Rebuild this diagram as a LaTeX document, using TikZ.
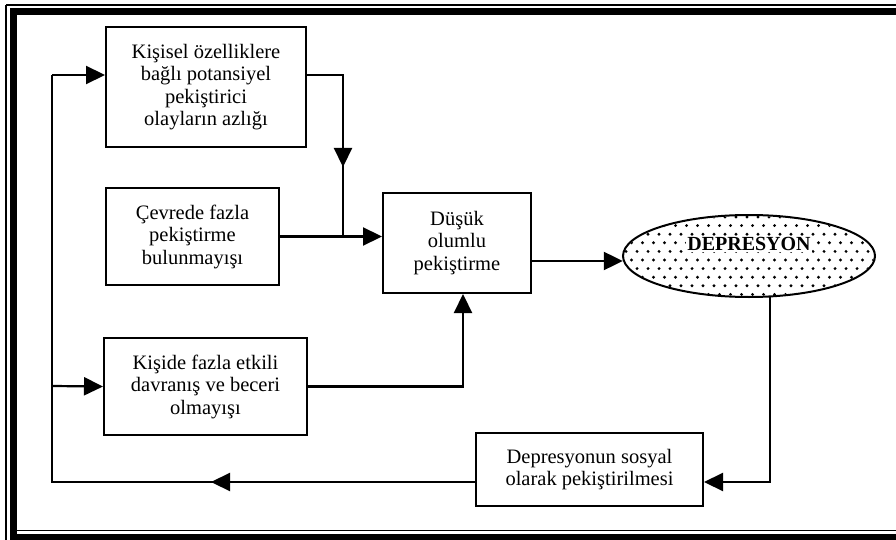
\documentclass[tikz,border=0pt]{standalone}
\usepackage{fontspec}
\setmainfont{Liberation Serif}
\usetikzlibrary{arrows.meta,shapes.geometric,calc}
\begin{document}
\begin{tikzpicture}[x=1pt,y=-1pt,
  box/.style={draw,line width=2pt,align=center,inner sep=0pt,
    font=\fontsize{20.5}{22.5}\selectfont},
  line/.style={line width=2.2pt},
  arr/.style={line width=2.2pt,-{Triangle[length=19pt,width=18pt]}},
]
\useasboundingbox (0,0) rectangle (896,540);
% frame
\draw[line width=1.2pt] (6,5) -- (910,5);
\draw[line width=1.2pt] (6,5) -- (6,545);
\draw[line width=6.5pt] (910,11.5) -- (13.5,11.5) -- (13.5,537.5) -- (910,537.5);
\draw[line width=1pt] (17,530) -- (910,530);

% nodes
\node[box,minimum width=200pt,minimum height=120pt] (k1) at (206,87)
  {Kişisel özelliklere\\bağlı potansiyel\\pekiştirici\\olayların azlığı};
\node[box,minimum width=173pt,minimum height=97pt] (k2) at (192.5,236.5)
  {Çevrede fazla\\pekiştirme\\bulunmayışı};
\node[box,minimum width=203pt,minimum height=97pt] (k3) at (205.5,386.5)
  {Kişide fazla etkili\\davranış ve beceri\\olmayışı};
\node[box,minimum width=148pt,minimum height=100pt] (d) at (457,243)
  {Düşük\\olumlu\\pekiştirme};
\node[box,minimum width=227pt,minimum height=73pt] (s) at (589.5,469.5)
  {Depresyonun sosyal\\olarak pekiştirilmesi};
\node[ellipse,minimum width=252pt,minimum height=82pt,inner sep=0pt] (e) at (749,256) {};
% dots inside the ellipse
\begin{scope}
  \clip (749,256) ellipse [x radius=125pt, y radius=40pt];
  \foreach \r in {0,...,10}{
    \pgfmathsetmacro{\yy}{217+\r*8.6}
    \pgfmathsetmacro{\xo}{mod(\r,2)*5.5}
    \foreach \c in {0,...,23}{
      \fill (626+\xo+\c*11,\yy) circle (1.6pt);
    }
  }
\end{scope}
\draw[line width=2pt] (749,256) ellipse [x radius=126pt, y radius=41pt];
\node[fill=white,inner sep=1.5pt,font=\bfseries\fontsize{20}{22}\selectfont] (et) at (749,244) {DEPRESYON};

% coordinates
\coordinate (j1) at (343,75);
\coordinate (j2) at (343,238);
\coordinate (m1) at (343,167);
\coordinate (c1) at (52,482);
\coordinate (c2) at (52,75);
\coordinate (c3) at (52,386);
\coordinate (m2) at (211,482);

% connectors
\draw[line] ([yshift=12pt]k1.east) -- (j1) -- (j2);
\draw[arr] (j1) -- (m1);
\draw[arr] (k2.east) -- (k2.east -| d.west);
\draw[arr] (k3.east) -| ([xshift=6pt]d.south);
\draw[arr] ([yshift=-18pt]d.east) -- ([yshift=-18pt]d.east -| e.west);
\draw[arr] ([xshift=21pt]e.south) |- ([yshift=-12.5pt]s.east);
\draw[line] ([yshift=-12.5pt]s.west) -- (c1) -- (c2);
\draw[arr] ([yshift=-12.5pt]s.west) -- (m2);
\draw[arr] (c2) -- ([yshift=12pt]k1.west);
\draw[arr] (c3) -- (k3.west);
\end{tikzpicture}
\end{document}
